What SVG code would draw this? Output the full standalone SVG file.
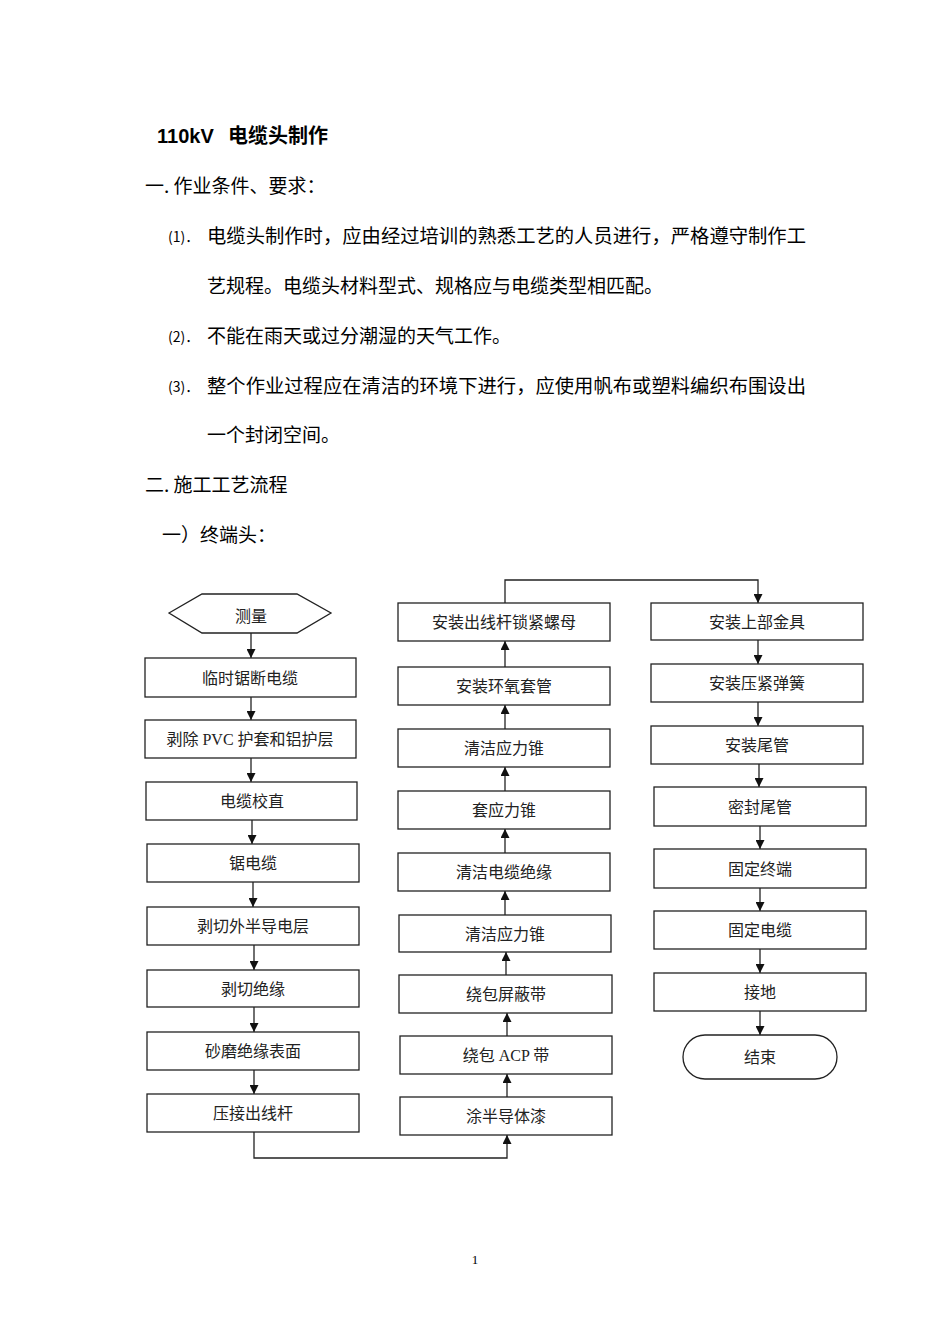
<svg xmlns="http://www.w3.org/2000/svg" width="950" height="1344" viewBox="0 0 950 1344">
<style>
.doc{font-family:"Noto Sans CJK SC","Noto Sans",sans-serif;font-size:19px;fill:#000}
.num{font-family:"Noto Sans CJK SC","Noto Sans",sans-serif;font-size:14px;fill:#000}
.title{font-family:"Liberation Sans","Noto Sans CJK SC",sans-serif;font-size:20px;font-weight:bold;fill:#000}
.box{fill:#fff;stroke:#222;stroke-width:1.3}
.lbl{font-family:"Liberation Serif","Noto Sans CJK SC",serif;font-size:16px;fill:#222;text-anchor:middle}
.con{fill:none;stroke:#222;stroke-width:1.3}
.pg{font-family:"Liberation Serif",serif;font-size:13px;fill:#000;text-anchor:middle}
</style>
<defs>
<marker id="ah" viewBox="0 0 10 10" refX="10" refY="5" markerWidth="10" markerHeight="9" markerUnits="userSpaceOnUse" orient="auto">
<path d="M0,0 L10,5 L0,10 Z" fill="#111"/>
</marker>
</defs>
<rect width="950" height="1344" fill="#fff"/>

<g id="text">
<text class="title" y="143"><tspan x="157">110kV</tspan><tspan x="228">电缆头制作</tspan></text>
<text class="doc" x="145" y="193">一. 作业条件、要求：</text>
<text class="num" x="168" y="242">(1)．</text>
<text class="doc" x="207" y="243" textLength="599" lengthAdjust="spacingAndGlyphs">电缆头制作时，应由经过培训的熟悉工艺的人员进行，严格遵守制作工</text>
<text class="doc" x="207" y="293">艺规程。电缆头材料型式、规格应与电缆类型相匹配。</text>
<text class="num" x="168" y="342">(2)．</text>
<text class="doc" x="207" y="343">不能在雨天或过分潮湿的天气工作。</text>
<text class="num" x="168" y="392">(3)．</text>
<text class="doc" x="207" y="393" textLength="599" lengthAdjust="spacingAndGlyphs">整个作业过程应在清洁的环境下进行，应使用帆布或塑料编织布围设出</text>
<text class="doc" x="207" y="442">一个封闭空间。</text>
<text class="doc" x="145" y="492">二. 施工工艺流程</text>
<text class="doc" x="162" y="542">一）终端头：</text>
<text class="pg" x="475" y="1264">1</text>
</g>

<g id="connectors">
<line class="con" x1="251" y1="633" x2="251" y2="658" marker-end="url(#ah)"/>
<line class="con" x1="251" y1="697" x2="251" y2="720" marker-end="url(#ah)"/>
<line class="con" x1="251" y1="758" x2="251" y2="782" marker-end="url(#ah)"/>
<line class="con" x1="252" y1="820" x2="252" y2="844" marker-end="url(#ah)"/>
<line class="con" x1="253" y1="882" x2="253" y2="907" marker-end="url(#ah)"/>
<line class="con" x1="254" y1="945" x2="254" y2="970" marker-end="url(#ah)"/>
<line class="con" x1="254" y1="1007" x2="254" y2="1032" marker-end="url(#ah)"/>
<line class="con" x1="254" y1="1070" x2="254" y2="1094" marker-end="url(#ah)"/>
<polyline class="con" points="254,1132 254,1158 507,1158 507,1135" marker-end="url(#ah)"/>
<line class="con" x1="507" y1="1097" x2="507" y2="1074" marker-end="url(#ah)"/>
<line class="con" x1="507" y1="1036" x2="507" y2="1013" marker-end="url(#ah)"/>
<line class="con" x1="506" y1="975" x2="506" y2="952" marker-end="url(#ah)"/>
<line class="con" x1="505" y1="915" x2="505" y2="891" marker-end="url(#ah)"/>
<line class="con" x1="505" y1="853" x2="505" y2="829" marker-end="url(#ah)"/>
<line class="con" x1="505" y1="791" x2="505" y2="767" marker-end="url(#ah)"/>
<line class="con" x1="505" y1="729" x2="505" y2="705" marker-end="url(#ah)"/>
<line class="con" x1="505" y1="667" x2="505" y2="641" marker-end="url(#ah)"/>
<polyline class="con" points="505,603 505,580 758,580 758,603" marker-end="url(#ah)"/>
<line class="con" x1="758" y1="640" x2="758" y2="664" marker-end="url(#ah)"/>
<line class="con" x1="758" y1="702" x2="758" y2="726" marker-end="url(#ah)"/>
<line class="con" x1="759" y1="764" x2="759" y2="787" marker-end="url(#ah)"/>
<line class="con" x1="760" y1="826" x2="760" y2="849" marker-end="url(#ah)"/>
<line class="con" x1="760" y1="888" x2="760" y2="911" marker-end="url(#ah)"/>
<line class="con" x1="760" y1="949" x2="760" y2="973" marker-end="url(#ah)"/>
<line class="con" x1="760" y1="1011" x2="760" y2="1035" marker-end="url(#ah)"/>
</g>

<g id="n-celiang"><polygon class="box" points="169,613 202,594 297,594 331,613 297,633 202,633"/><text class="lbl" x="251" y="622">测量</text></g>
<g id="n-linshi"><rect class="box" x="145" y="658" width="211" height="39"/><text class="lbl" x="250" y="684">临时锯断电缆</text></g>
<g id="n-bochu"><rect class="box" x="145" y="720" width="211" height="38"/><text class="lbl" x="250" y="745">剥除 PVC 护套和铝护层</text></g>
<g id="n-jiaozhi"><rect class="box" x="146" y="782" width="211" height="38"/><text class="lbl" x="252" y="807">电缆校直</text></g>
<g id="n-judianlan"><rect class="box" x="147" y="844" width="212" height="38"/><text class="lbl" x="253" y="869">锯电缆</text></g>
<g id="n-waiban"><rect class="box" x="147" y="907" width="212" height="38"/><text class="lbl" x="253" y="932">剥切外半导电层</text></g>
<g id="n-juyuan"><rect class="box" x="147" y="970" width="212" height="37"/><text class="lbl" x="253" y="995">剥切绝缘</text></g>
<g id="n-shamo"><rect class="box" x="147" y="1032" width="212" height="38"/><text class="lbl" x="253" y="1057">砂磨绝缘表面</text></g>
<g id="n-yajie"><rect class="box" x="147" y="1094" width="212" height="38"/><text class="lbl" x="253" y="1119">压接出线杆</text></g>

<g id="n-tuban"><rect class="box" x="400" y="1097" width="212" height="38"/><text class="lbl" x="506" y="1122">涂半导体漆</text></g>
<g id="n-acp"><rect class="box" x="400" y="1036" width="212" height="38"/><text class="lbl" x="506" y="1061">绕包 ACP 带</text></g>
<g id="n-pingbi"><rect class="box" x="399" y="975" width="213" height="38"/><text class="lbl" x="506" y="1000">绕包屏蔽带</text></g>
<g id="n-qingjie2"><rect class="box" x="399" y="915" width="212" height="37"/><text class="lbl" x="505" y="940">清洁应力锥</text></g>
<g id="n-qjjueyuan"><rect class="box" x="398" y="853" width="212" height="38"/><text class="lbl" x="504" y="878">清洁电缆绝缘</text></g>
<g id="n-tao"><rect class="box" x="398" y="791" width="212" height="38"/><text class="lbl" x="504" y="816">套应力锥</text></g>
<g id="n-qingjie1"><rect class="box" x="398" y="729" width="212" height="38"/><text class="lbl" x="504" y="754">清洁应力锥</text></g>
<g id="n-huanyang"><rect class="box" x="398" y="667" width="212" height="38"/><text class="lbl" x="504" y="692">安装环氧套管</text></g>
<g id="n-luomu"><rect class="box" x="398" y="603" width="212" height="38"/><text class="lbl" x="504" y="628">安装出线杆锁紧螺母</text></g>

<g id="n-shangbu"><rect class="box" x="651" y="603" width="212" height="37"/><text class="lbl" x="757" y="628">安装上部金具</text></g>
<g id="n-tanhuang"><rect class="box" x="651" y="664" width="212" height="38"/><text class="lbl" x="757" y="689">安装压紧弹簧</text></g>
<g id="n-weiguan"><rect class="box" x="651" y="726" width="212" height="38"/><text class="lbl" x="757" y="751">安装尾管</text></g>
<g id="n-mifeng"><rect class="box" x="654" y="787" width="212" height="39"/><text class="lbl" x="760" y="813">密封尾管</text></g>
<g id="n-guding1"><rect class="box" x="654" y="849" width="212" height="39"/><text class="lbl" x="760" y="875">固定终端</text></g>
<g id="n-guding2"><rect class="box" x="654" y="911" width="212" height="38"/><text class="lbl" x="760" y="936">固定电缆</text></g>
<g id="n-jiedi"><rect class="box" x="654" y="973" width="212" height="38"/><text class="lbl" x="760" y="998">接地</text></g>
<g id="n-jieshu"><rect class="box" x="683" y="1035" width="154" height="44" rx="22" ry="22"/><text class="lbl" x="760" y="1063">结束</text></g>
</svg>
